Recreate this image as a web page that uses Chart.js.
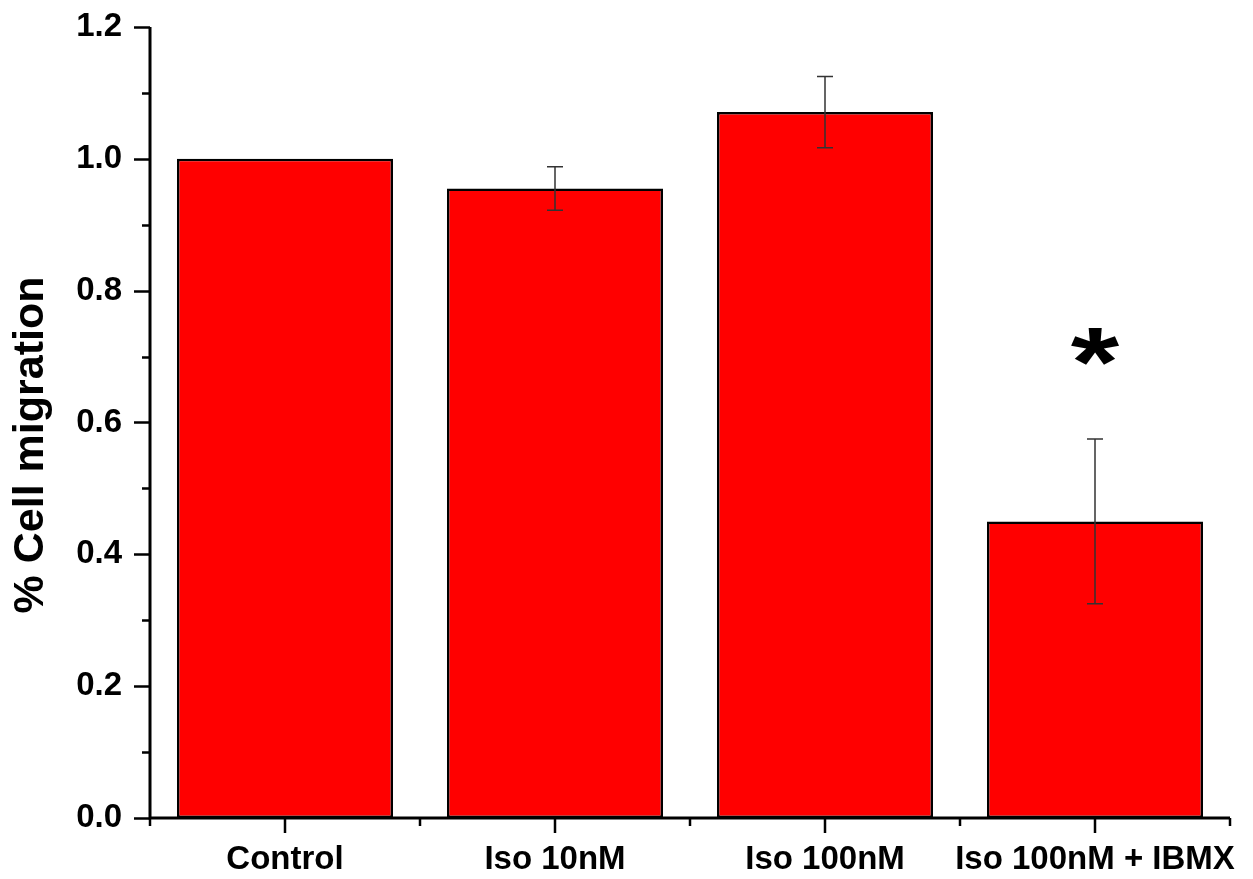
<!DOCTYPE html>
<html>
<head>
<meta charset="utf-8">
<script src="https://cdn.jsdelivr.net/npm/chart.js@4"></script>
<style>
  body { margin: 0; background: #fff; }
  #myChart { display: block; }
</style>
</head>
<body>
<canvas id="myChart" width="1253" height="879"></canvas>
<script>
const categories = ["Control", "Iso 10nM", "Iso 100nM", "Iso 100nM + IBMX"];
const migration = [1.0, 0.955, 1.071, 0.45];
const errors = [null, 0.033, 0.054, 0.125];
const significant = [false, false, false, true];
const yMin = 0, yMax = 1.2, yStep = 0.2, yMinorStep = 0.1;

const FONT = "'Liberation Sans', Arial, sans-serif";

// axes, ticks, error bars, asterisk and y title (Origin style)
const extrasPlugin = {
  id: "extras",
  afterDatasetsDraw(chart) {
    const ctx = chart.ctx;
    const x = chart.scales.x, y = chart.scales.y;
    const area = chart.chartArea;
    const meta = chart.getDatasetMeta(0);

    // error bars
    ctx.save();
    ctx.strokeStyle = "#333";
    ctx.lineWidth = 1.5;
    meta.data.forEach((bar, i) => {
      if (errors[i] == null) return;
      const cx = bar.x;
      const top = y.getPixelForValue(migration[i] + errors[i]);
      const bot = y.getPixelForValue(migration[i] - errors[i]);
      ctx.beginPath();
      ctx.moveTo(cx, top); ctx.lineTo(cx, bot);
      ctx.moveTo(cx - 8, top); ctx.lineTo(cx + 8, top);
      ctx.moveTo(cx - 8, bot); ctx.lineTo(cx + 8, bot);
      ctx.stroke();
      if (significant[i]) {
        ctx.save();
        ctx.fillStyle = "#000";
        ctx.font = "bold 98px " + FONT;
        ctx.textAlign = "center";
        ctx.textBaseline = "alphabetic";
        ctx.translate(cx, top - 43);
        ctx.scale(1.27, 1);
        ctx.fillText("*", 0, 0);
        ctx.restore();
      }
    });
    ctx.restore();

    // axis lines
    ctx.save();
    ctx.strokeStyle = "#000";
    ctx.lineWidth = 3;
    ctx.beginPath();
    ctx.moveTo(area.left, area.top);
    ctx.lineTo(area.left, area.bottom);
    ctx.lineTo(area.right, area.bottom);
    ctx.stroke();

    // y ticks: major 0.2, minor 0.1
    ctx.lineWidth = 2.5;
    ctx.beginPath();
    const n = Math.round((yMax - yMin) / yMinorStep);
    for (let k = 0; k <= n; k++) {
      const v = yMin + k * yMinorStep;
      const py = Math.round(y.getPixelForValue(v)) + 0.5;
      const len = k % 2 === 0 ? 16 : 8;
      ctx.moveTo(area.left, py);
      ctx.lineTo(area.left - len, py);
    }
    // x ticks: major at centres, minor at boundaries
    categories.forEach((c, i) => {
      const px = Math.round(x.getPixelForValue(i));
      ctx.moveTo(px, area.bottom);
      ctx.lineTo(px, area.bottom + 15);
    });
    const half = (x.getPixelForValue(1) - x.getPixelForValue(0)) / 2;
    for (let i = 0; i <= categories.length; i++) {
      const px = Math.round(x.getPixelForValue(0) - half + i * 2 * half);
      ctx.moveTo(px, area.bottom);
      ctx.lineTo(px, area.bottom + 8);
    }
    ctx.stroke();
    ctx.restore();

    // y title
    ctx.save();
    ctx.fillStyle = "#000";
    ctx.font = "bold 43px " + FONT;
    ctx.textAlign = "center";
    ctx.textBaseline = "alphabetic";
    ctx.translate(43, 445);
    ctx.rotate(-Math.PI / 2);
    ctx.fillText("% Cell migration", 0, 0);
    ctx.restore();
  }
};

const ctx = document.getElementById("myChart").getContext("2d");
new Chart(ctx, {
  type: "bar",
  data: {
    labels: categories,
    datasets: [{
      label: "% Cell migration",
      data: migration,
      backgroundColor: "#FF0000",
      borderColor: "#000000",
      borderWidth: 2.5,
      borderSkipped: false,
      categoryPercentage: 1.0,
      barPercentage: 0.8,
    }]
  },
  options: {
    responsive: false,
    animation: false,
    layout: { padding: { top: 27, right: 23, left: 0, bottom: 0 } },
    scales: {
      x: {
        offset: true,
        grid: { display: false, drawTicks: false },
        border: { display: false },
        ticks: {
          padding: 22,
          color: "#000",
          font: { family: FONT, size: 33, weight: "bold" },
          maxRotation: 0,
          autoSkip: false,
        },
        afterFit(scale) {
          scale.height = 61;
          scale.paddingLeft = 0;
          scale.paddingRight = 0;
        },
      },
      y: {
        min: yMin,
        max: yMax,
        grid: { display: false, drawTicks: false },
        border: { display: false },
        ticks: {
          stepSize: yStep,
          padding: 28,
          color: "#000",
          font: { family: FONT, size: 33, weight: "bold" },
          callback: (v) => Number(v).toFixed(1),
        },
        afterFit(scale) {
          scale.width = 150;
          scale.paddingTop = 0;
          scale.paddingBottom = 0;
        },
      },
    },
    plugins: {
      legend: { display: false },
      tooltip: { enabled: false },
    },
  },
  plugins: [extrasPlugin],
});
</script>
</body>
</html>
